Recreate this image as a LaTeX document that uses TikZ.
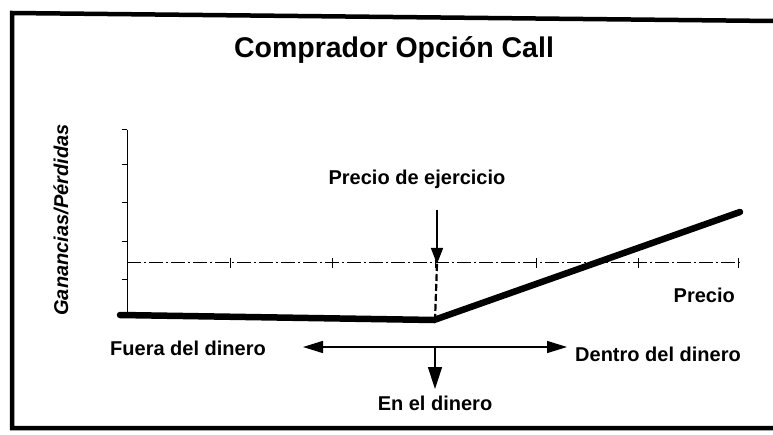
\documentclass[tikz,border=0pt]{standalone}
\usepackage{fontspec}
\setmainfont{Liberation Sans}
\usetikzlibrary{arrows.meta}

\begin{document}
\begin{tikzpicture}[x=1pt,y=-1pt,
    flecha/.style={-{Triangle[length=16pt,width=12pt]}},
    ejes/.style={line width=1pt}]

        \useasboundingbox (0,0) rectangle (773,435);

        % marco
        \draw[line width=4.5pt] (773,21) -- (12,13) -- (12,428) -- (773,428);

        \coordinate (o)    at (127,315);
        \coordinate (ytop) at (127,130);
        \coordinate (xl)   at (127,263);
        \coordinate (xr)   at (740,263);
        \coordinate (p0)   at (120,315);
        \coordinate (k)    at (434,320);
        \coordinate (p1)   at (740,212);
        \coordinate (e0)   at (437,210);
        \coordinate (e1)   at (437,264);
        \coordinate (e2)   at (435,320);
        \coordinate (fl)   at (303,347);
        \coordinate (fr)   at (567,347);
        \coordinate (fm)   at (435,347);
        \coordinate (fd)   at (435,389);

        \begin{scope}[every node/.style={font=\bfseries\fontsize{20}{24}\selectfont, inner sep=0pt}]
          \node[font=\bfseries\fontsize{28.5}{34}\selectfont, anchor=base] (titulo) at (394,58) {Comprador Opción Call};
          \node[font=\bfseries\itshape\fontsize{20}{24}\selectfont, rotate=90, anchor=base] (gp) at (68,220) {Ganancias/Pérdidas};
          \node[anchor=base] (ejercicio) at (417,185) {Precio de ejercicio};
          \node[anchor=base east] (precio) at (735,303) {Precio};
          \node[anchor=base west] (fuera) at (110,355) {Fuera del dinero};
          \node[anchor=base west] (dentro) at (575,361) {Dentro del dinero};
          \node[anchor=base] (en) at (435,410) {En el dinero};
        \end{scope}

        % ejes
        \draw[ejes] (ytop) -- (o);
        \draw[ejes, dash pattern=on 14pt off 3pt on 2pt off 3pt] (xl) -- (xr);
        \foreach \y in {130,165,203,242,280}
          \draw[ejes] (127,\y) -- (122,\y);
        \foreach \x in {230,332,435,536,638,738}
          \draw[ejes] (\x,258) -- (\x,268);

        % resultado
        \draw[line width=6.5pt, line cap=round] (p0) -- (k) -- (p1);

        \begin{scope}[every edge/.style={draw, line width=1.5pt}]
          \path (e0) edge[flecha] (e1);
          \path (e1) edge[line width=2.2pt, dash pattern=on 7pt off 3pt] (e2);
          \path (fl) edge[{Triangle[length=20pt,width=12pt]}-{Triangle[length=20pt,width=12pt]}] (fr);
          \path (fm) edge[-{Triangle[length=22pt,width=14pt]}] (fd);
        \end{scope}

      \end{tikzpicture}
\end{document}
